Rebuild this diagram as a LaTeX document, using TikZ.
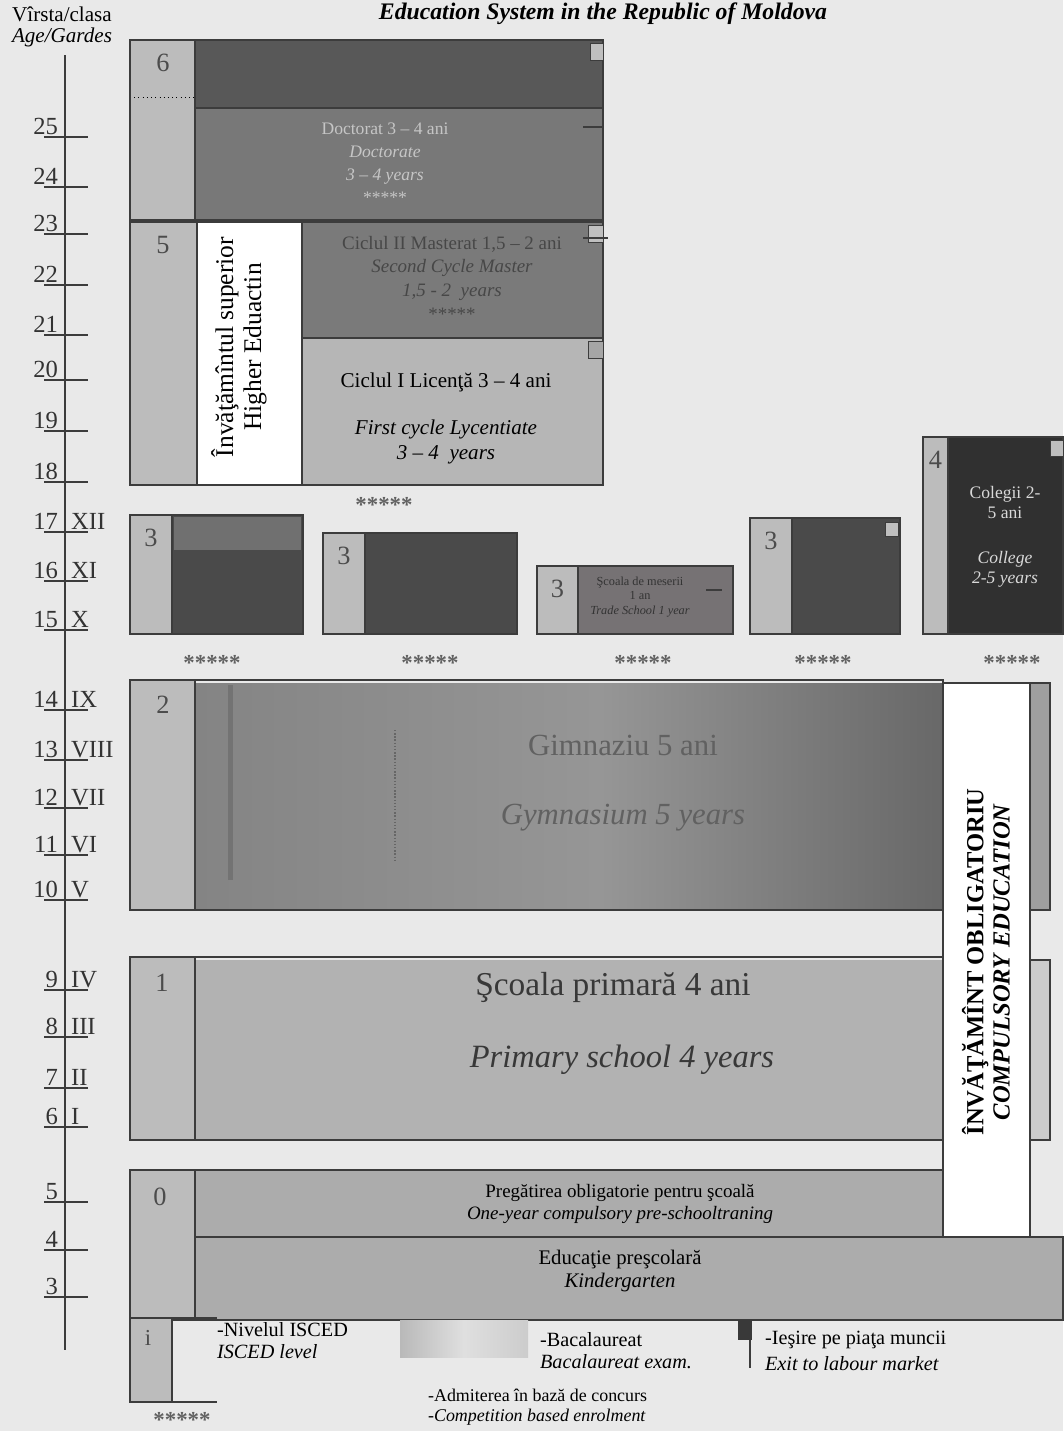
\documentclass[tikz,border=0pt]{standalone}
\usepackage{fontspec}
\setmainfont{Liberation Serif}
\usetikzlibrary{positioning}

\definecolor{paper}{RGB}{233,233,233}
\definecolor{edge}{RGB}{60,60,60}
\definecolor{isced}{RGB}{188,188,188}
\definecolor{doctop}{RGB}{88,88,88}
\definecolor{docbot}{RGB}{120,120,120}
\definecolor{master}{RGB}{122,122,122}
\definecolor{licenta}{RGB}{182,182,182}
\definecolor{darkbox}{RGB}{74,74,74}
\definecolor{midbox}{RGB}{118,114,116}
\definecolor{college}{RGB}{48,48,48}
\definecolor{bandA}{RGB}{112,112,112}
\definecolor{gymA}{RGB}{132,132,132}
\definecolor{gymB}{RGB}{150,150,150}
\definecolor{gymC}{RGB}{104,104,104}
\definecolor{primary}{RGB}{178,178,178}
\definecolor{presch}{RGB}{172,172,172}

\tikzset{
  blockline/.style={draw=edge, line width=1.3pt},
  iscedcol/.style={fill=isced, draw=edge, line width=1pt},
  levelnum/.style={font=\fontsize{15}{15}\selectfont, text=black!70, anchor=north},
  agelabel/.style={font=\fontsize{14}{14}\selectfont, inner sep=1pt, text=black!80},
  boxtext/.style={font=\fontsize{10}{13}\selectfont, align=center},
  legtext/.style={font=\fontsize{11.5}{13}\selectfont, inner sep=1pt},
  starrow/.style={font=\fontsize{13}{13}\selectfont\bfseries, text=black!62},
  exitmark/.style={fill=gray!50, draw=edge, line width=0.5pt},
}

\begin{document}
\begin{tikzpicture}[x=0.02cm, y=-0.02cm]
\useasboundingbox (0,0) rectangle (1063,1431);
\fill[paper] (0,0) rectangle (1063,1431);

% heading
\node (title) at (603,14) {\fontsize{13.5}{15}\selectfont\bfseries\itshape Education System in the Republic of Moldova};
\node (virsta) at (62,14) {\fontsize{12}{12}\selectfont Vîrsta/clasa};
\node (agegr) at (62,37) {\fontsize{12}{12}\selectfont\itshape Age/Gardes};

% age axis
\draw[edge, line width=1.2pt] (65,55) -- (65,1350);
\foreach \a/\r/\y in {25//137, 24//187, 23//234, 22//285, 21//335, 20//380, 19//431, 18//482,
    17/XII/532, 16/XI/581, 15/X/630, 14/IX/710, 13/VIII/760, 12/VII/808, 11/VI/855, 10/V/900,
    9/IV/990, 8/III/1037, 7/II/1088, 6/I/1127, 5//1202, 4//1250, 3//1297}{
  \draw[edge, line width=0.9pt] (44,\y) -- (88,\y);
  \node[agelabel, anchor=south east] (age\a) at (60,\y) {\a};
  \node[agelabel, anchor=south west] (gr\a) at (69,\y) {\r};
}

% level 6
\fill[doctop] (195,40) rectangle (603,108);
\fill[docbot] (195,108) rectangle (603,220);
\draw[iscedcol] (130,40) rectangle (195,220);
\draw[dotted] (130,97) -- (195,97);
\draw[edge, line width=1pt] (195,108) -- (603,108);
\draw[blockline] (130,40) rectangle (603,220);
\node[levelnum] (six) at (163,48) {6};
\node[boxtext, text=gray!45] (doct) at (385,163) {Doctorat 3 – 4 ani\\ \textit{Doctorate}\\ \textit{3 – 4 years}\\ *****};
\draw[exitmark] (590,43) rectangle (603,60);
\draw[edge, line width=1.2pt] (583,127) -- (603,127);

% level 5
\draw[iscedcol] (130,222) rectangle (197,485);
\draw[fill=white, draw=edge] (197,222) rectangle (302,485);
\draw[fill=master, draw=edge, line width=1pt] (302,222) rectangle (603,338);
\draw[fill=licenta, draw=edge, line width=1pt] (302,338) rectangle (603,485);
\draw[blockline] (130,222) rectangle (603,485);
\node[levelnum] (five) at (163,230) {5};
\node[rotate=90, font=\fontsize{14.5}{16}\selectfont, align=center] (higher) at (239,347) {Învăţămîntul superior\\Higher Eduactin};
\node[boxtext, font=\fontsize{10.8}{13.5}\selectfont, text=black!72] (mast) at (452,278) {Ciclul II Masterat 1,5 – 2 ani\\ \textit{Second Cycle Master}\\ \textit{1,5 - 2\ \ years}\\ *****};
\node[boxtext, font=\fontsize{12}{14}\selectfont] (lic) at (446,382) {Ciclul I Licenţă 3 – 4 ani};
\node[boxtext, font=\fontsize{12}{14}\selectfont] (licen) at (446,442) {\textit{First cycle Lycentiate}\\ \textit{3 – 4\ \ years}};
\draw[exitmark] (588,225) rectangle (603,242);
\draw[edge, line width=1.2pt] (583,238) -- (608,238);
\draw[exitmark, fill=gray!70] (588,341) rectangle (603,358);
\node[starrow] (st5) at (384,505) {*****};

% level 3 and 4
\foreach \xa/\ya/\xb/\xc/\col/\nm/\sx in {130/515/303/172/darkbox/3/212, 323/533/517/365/darkbox/3/430,
    537/566/733/578/midbox/3/643, 750/518/900/792/darkbox/3/823, 923/437/1063/948/college/4/1012}{
  \fill[\col] (\xc,\ya) rectangle (\xb,634);
  \draw[iscedcol] (\xa,\ya) rectangle (\xc,634);
  \draw[blockline] (\xa,\ya) rectangle (\xb,634);
  \node[levelnum] (lv\xa) at ({(\xa+\xc)/2},{\ya+8}) {\nm};
  \node[starrow] (st\xa) at (\sx,663) {*****};
}
\fill[bandA] (174,517) rectangle (301,550);
\node[font=\fontsize{7}{8.5}\selectfont, align=center, text=black!80] (trade) at (640,597) {Şcoala de meserii\\1 an\\\textit{Trade School 1 year}};
\draw[edge, line width=1pt] (706,590) -- (722,590);
\draw[exitmark] (885,522) rectangle (898,536);
\draw[exitmark] (1050,440) rectangle (1063,456);
\node[boxtext, font=\fontsize{10}{11.5}\selectfont, text=gray!30] (coleg) at (1005,537) {Colegii 2-\\5 ani\\[14pt]\textit{College}\\\textit{2-5 years}};

% level 2
\shade[left color=gymA, right color=gymB] (195,683) rectangle (600,910);
\shade[left color=gymB, right color=gymC] (600,683) rectangle (943,910);
\fill[black!55] (228,685) rectangle (233,880);
\draw[black!60, densely dotted, line width=0.8pt] (395,730) -- (395,860);
\fill[gray!75] (1030,683) rectangle (1050,910);
\draw[edge, line width=1pt] (943,683) rectangle (1050,910);
\draw[iscedcol] (130,680) rectangle (195,910);
\draw[blockline] (130,680) rectangle (943,910);
\node[levelnum] (two) at (163,690) {2};
\node[font=\fontsize{17.5}{19}\selectfont, text=black!62] (gimn) at (623,745) {Gimnaziu 5 ani};
\node[font=\fontsize{17.5}{19}\selectfont, text=black!62] (gymn) at (623,818) {\itshape Gymnasium 5 years};

% level 1
\fill[primary] (195,960) rectangle (943,1140);
\draw[fill=gray!40, draw=edge, line width=1pt] (1030,960) rectangle (1050,1140);
\draw[iscedcol] (130,957) rectangle (195,1140);
\draw[blockline] (130,957) rectangle (943,1140);
\node[levelnum] (one) at (162,968) {1};
\node[font=\fontsize{19}{21}\selectfont, text=black!78] (prim) at (613,987) {Şcoala primară 4 ani};
\node[font=\fontsize{18.5}{21}\selectfont, text=black!78] (primen) at (622,1060) {\itshape Primary school 4 years};

% level 0
\fill[presch] (195,1170) rectangle (943,1237);
\fill[presch] (195,1237) rectangle (1063,1320);
\draw[iscedcol] (130,1170) rectangle (195,1320);
\draw[blockline] (195,1170) rectangle (943,1237);
\draw[blockline] (195,1237) rectangle (1063,1320);
\draw[blockline] (130,1170) -- (195,1170) (130,1320) -- (195,1320);
\node[levelnum] (zero) at (160,1182) {0};
\node[boxtext, font=\fontsize{10.8}{12.5}\selectfont] (pregat) at (620,1204) {Pregătirea obligatorie pentru şcoală\\\textit{One-year compulsory pre-schooltraning}};
\node[boxtext, font=\fontsize{11.8}{13}\selectfont] (kinder) at (620,1271) {Educaţie preşcolară\\\textit{Kindergarten}};

% compulsory column
\draw[fill=white, draw=edge, line width=1.3pt] (943,683) rectangle (1030,1237);
\node[rotate=90, font=\fontsize{14}{15}\selectfont\bfseries, align=center] (oblig) at (986,962) {ÎNVĂŢĂMÎNT OBLIGATORIU\\\textit{COMPULSORY EDUCATION}};

% legend
\fill[isced] (130,1318) rectangle (172,1402);
\draw[edge, line width=1pt] (217,1318) -- (130,1318) -- (130,1402) -- (217,1402) (172,1318) -- (172,1402);
\node[font=\fontsize{13}{13}\selectfont, text=black!70] (legi) at (148,1338) {i};
\node[legtext, anchor=west] (lgisced) at (215,1330) {-Nivelul ISCED};
\node[legtext, below=2pt of lgisced.south west, anchor=north west] (lgisceden) {\itshape ISCED level};
\shade[left color=gray!55, right color=gray!40, middle color=gray!25] (400,1320) rectangle (528,1357);
\node[legtext, anchor=west] (lgbac) at (538,1340) {-Bacalaureat};
\node[legtext, below=2pt of lgbac.south west, anchor=north west] (lgbacen) {\itshape Bacalaureat exam.};
\draw[edge, line width=1pt] (683,1320) -- (750,1320) -- (750,1368);
\fill[gray!45!black] (738,1320) rectangle (752,1340);
\node[legtext, anchor=west] (lgexit) at (763,1340) {-Ieşire pe piaţa muncii};
\node[legtext, below=2pt of lgexit.south west, anchor=north west] (lgexiten) {\itshape Exit to labour market};
\node[starrow] (lgstar) at (182,1420) {*****};
\node[legtext, font=\fontsize{10.2}{12}\selectfont, anchor=west] (lgadm) at (426,1395) {-Admiterea în bază de concurs};
\node[legtext, font=\fontsize{10.2}{12}\selectfont, below=2pt of lgadm.south west, anchor=north west] (lgadmen) {\itshape -Competition based enrolment};
\end{tikzpicture}
\end{document}
